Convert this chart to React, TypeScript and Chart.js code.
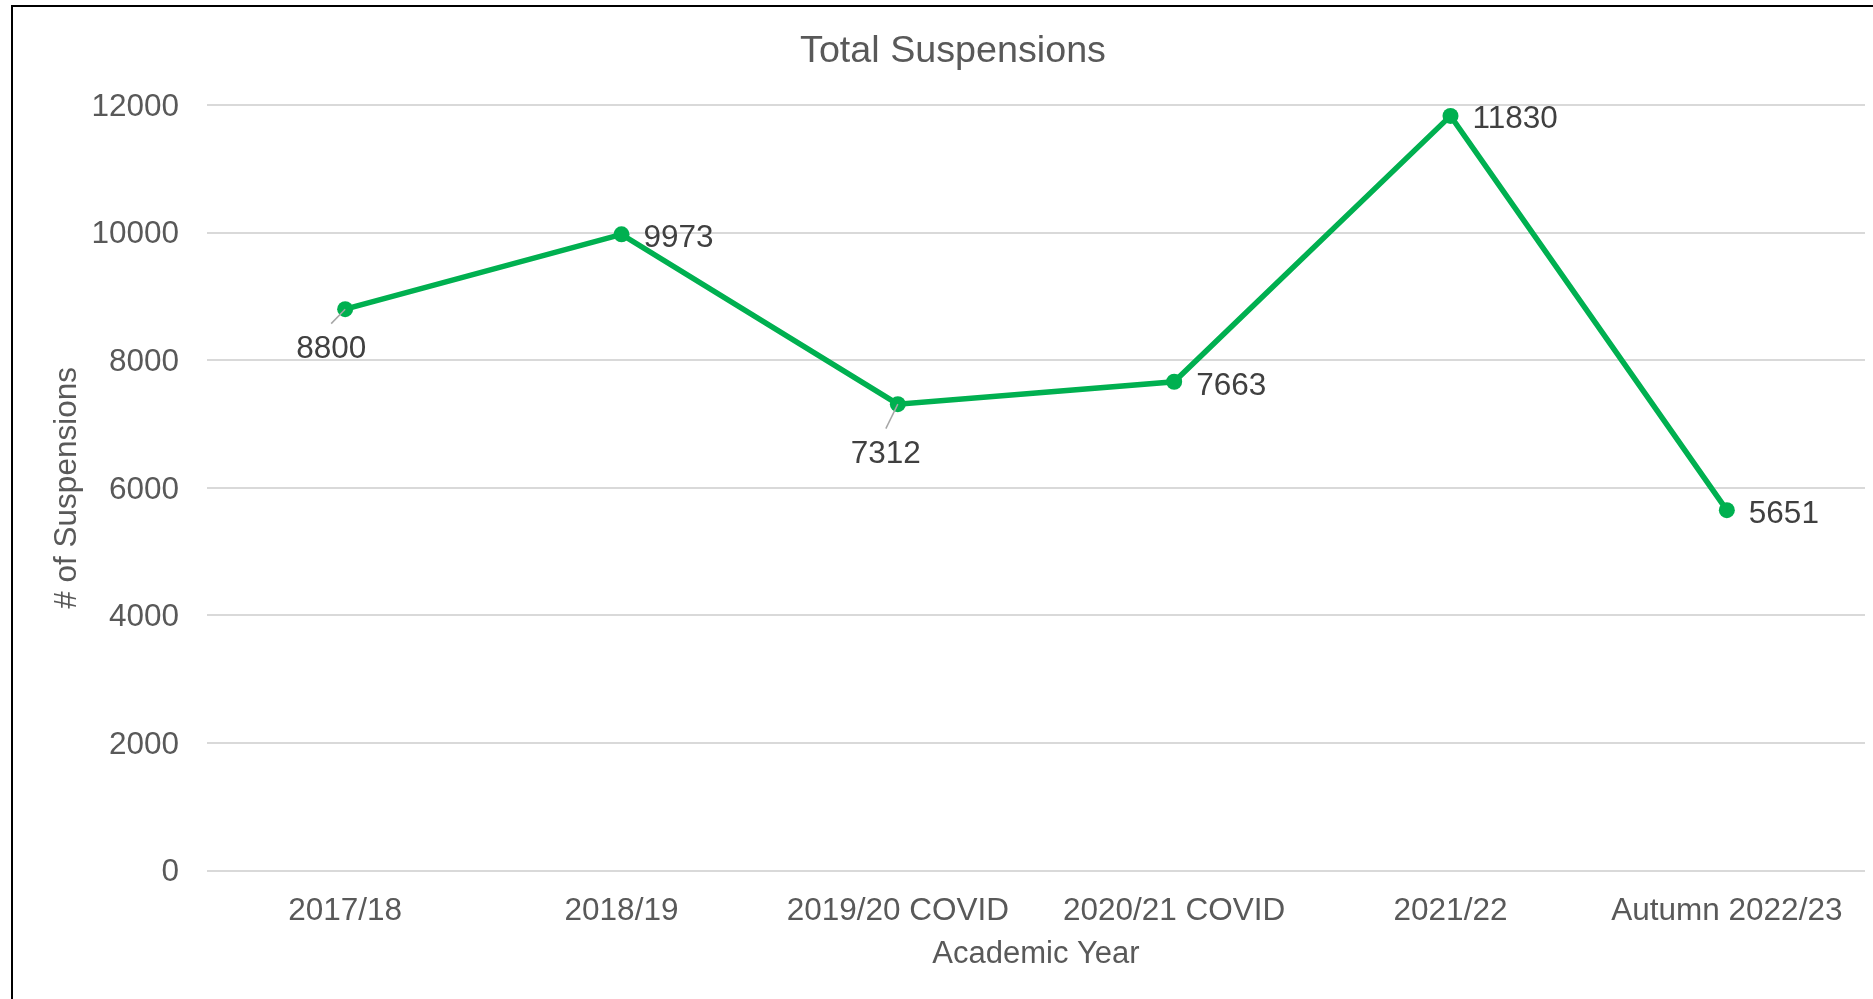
import React, { useEffect, useRef } from "react";
import { Chart, registerables } from "chart.js";

Chart.register(...registerables);

const categories = ["2017/18", "2018/19", "2019/20 COVID", "2020/21 COVID", "2021/22", "Autumn 2022/23"];
const suspensions = [8800, 9973, 7312, 7663, 11830, 5651];
const yTickValues = [0, 2000, 4000, 6000, 8000, 10000, 12000];

// label placement styles (pixel offsets from each point, and whether a leader line is drawn)
const labelStyles = [
  { dx: -14, dy: 49, align: "center", leader: true },
  { dx: 22, dy: 13, align: "left", leader: false },
  { dx: -12, dy: 59, align: "center", leader: true },
  { dx: 22, dy: 13, align: "left", leader: false },
  { dx: 22, dy: 12, align: "left", leader: false },
  { dx: 22, dy: 13, align: "left", leader: false },
];

const FONT = "'Liberation Sans', Arial, sans-serif";

const dataLabelPlugin = {
  id: "dataLabelPlugin",
  afterDatasetsDraw(chart: any) {
    const ctx = chart.ctx;
    const meta = chart.getDatasetMeta(0);
    ctx.save();
    meta.data.forEach((pt: any, i: number) => {
      const st = labelStyles[i];
      const x = pt.x + st.dx;
      const y = pt.y + st.dy;
      if (st.leader) {
        ctx.beginPath();
        ctx.strokeStyle = "#a6a6a6";
        ctx.lineWidth = 1.5;
        ctx.moveTo(pt.x, pt.y);
        ctx.lineTo(pt.x + st.dx, y - 22.6 - 12);
        ctx.stroke();
      }
      ctx.fillStyle = "#404040";
      ctx.font = `31.5px ${FONT}`;
      ctx.textAlign = st.align as CanvasTextAlign;
      ctx.textBaseline = "alphabetic";
      ctx.fillText(String(suspensions[i]), x, y);
    });
    ctx.restore();
  },
};

export default function App() {
  const ref = useRef<HTMLCanvasElement | null>(null);
  useEffect(() => {
    if (!ref.current) return;
    const chart = new Chart(ref.current, {
      type: "line",
      data: {
        labels: categories,
        datasets: [
          {
            data: suspensions,
            borderColor: "#00B050",
            backgroundColor: "#00B050",
            borderWidth: 5.5,
            pointRadius: 8,
            pointBorderWidth: 0,
            pointBackgroundColor: "#00B050",
            tension: 0,
            yAxisID: "y",
          },
        ],
      },
      options: {
        animation: false,
        responsive: false,
        maintainAspectRatio: false,
        layout: { padding: 0 },
        plugins: {
          legend: { display: false },
          tooltip: { enabled: false },
          title: {
            display: true,
            text: "Total Suspensions",
            color: "#595959",
            font: { family: FONT, size: 37.7, weight: "normal" },
            padding: { top: 29, bottom: 30.8 },
          },
        },
        scales: {
          x: {
            offset: true,
            grid: { display: false },
            border: { display: false },
            ticks: {
              color: "#595959",
              font: { family: FONT, size: 31.5 },
              padding: 14,
              maxRotation: 0,
              autoSkip: false,
            },
            title: {
              display: true,
              text: "Academic Year",
              color: "#595959",
              font: { family: FONT, size: 31 },
              padding: { top: 0, bottom: 26 },
            },
            afterFit: (s: any) => {
              s.height = 128.3;
            },
          },
          y: {
            position: "left",
            min: 0,
            max: 12000,
            grid: { color: "#d9d9d9", lineWidth: 2, drawTicks: false },
            border: { display: false },
            ticks: {
              color: "#595959",
              font: { family: FONT, size: 31.5 },
              padding: 28,
              labelOffset: 2,
              callback: (v: any) => String(v),
            },
            afterBuildTicks: (s: any) => {
              s.ticks = yTickValues.map((v) => ({ value: v }));
            },
            title: {
              display: true,
              text: "# of Suspensions",
              color: "#595959",
              font: { family: FONT, size: 31.5 },
              padding: { top: 48.8, bottom: 0 },
            },
            afterFit: (s: any) => {
              s.width = 207;
            },
          },
          y2: {
            position: "right",
            display: true,
            grid: { display: false },
            border: { display: false },
            ticks: { display: false },
            afterFit: (s: any) => {
              s.width = 41;
            },
          },
        },
      },
      plugins: [dataLabelPlugin],
    } as any);
    return () => chart.destroy();
  }, []);

  return (
    <div
      style={{
        position: "fixed",
        left: 0,
        top: 0,
        width: 1873,
        height: 999,
        overflow: "hidden",
        background: "#ffffff",
      }}
    >
      <div
        style={{
          position: "absolute",
          left: 11,
          top: 5,
          width: 2000,
          height: 1100,
          borderLeft: "2px solid #000000",
          borderTop: "2px solid #000000",
          boxSizing: "border-box",
        }}
      />
      <canvas
        ref={ref}
        width={1906}
        height={999}
        style={{ position: "absolute", left: 0, top: 0, width: 1906, height: 999 }}
      />
    </div>
  );
}
